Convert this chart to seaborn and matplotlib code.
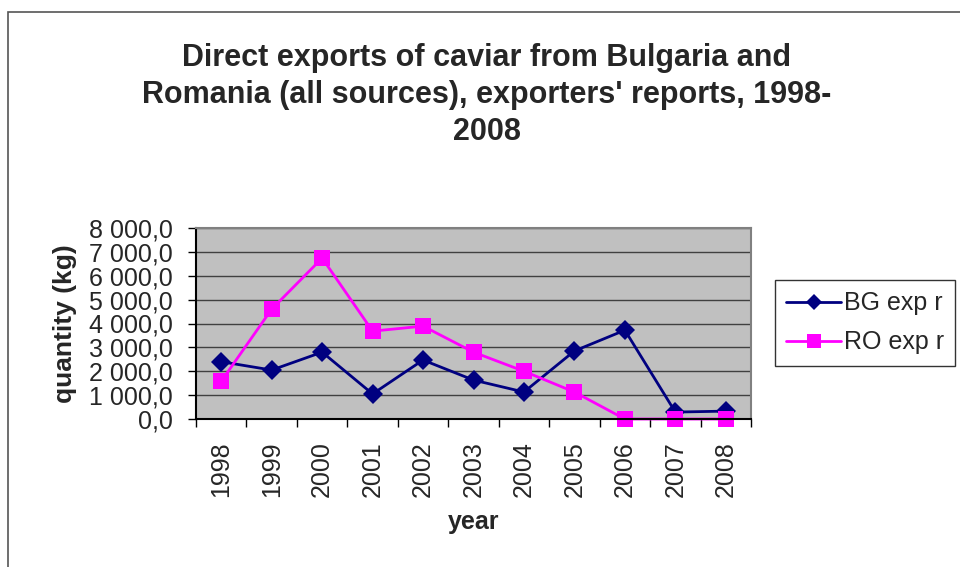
import numpy as np
import pandas as pd
import matplotlib
matplotlib.use("Agg")
import matplotlib.pyplot as plt
from matplotlib.ticker import FuncFormatter, MultipleLocator
import seaborn as sns

years = [1998, 1999, 2000, 2001, 2002, 2003, 2004, 2005, 2006, 2007, 2008]
bg_exp = [2400, 2050, 2800, 1050, 2470, 1630, 1130, 2850, 3720, 290, 330]
ro_exp = [1580, 4600, 6740, 3680, 3890, 2800, 2000, 1130, 0, 0, 0]

df = pd.DataFrame({
    "year": years * 2,
    "qty": bg_exp + ro_exp,
    "series": ["BG exp r"] * len(years) + ["RO exp r"] * len(years),
})

sns.set_style("white")
plt.rcParams["font.family"] = ["Liberation Sans", "DejaVu Sans"]

fig = plt.figure(figsize=(9.6, 5.67), dpi=100)
ax = fig.add_axes([196 / 960, 1 - 419 / 567, 555 / 960, 191 / 567])

sns.lineplot(data=df, x="year", y="qty", hue="series", style="series",
             palette={"BG exp r": "#000080", "RO exp r": "#FF00FF"},
             markers={"BG exp r": "D", "RO exp r": "s"}, dashes=False,
             markersize=10, linewidth=2, markeredgewidth=0, ax=ax)
# bigger squares for RO like in the original, and let markers at 0 show
for line in ax.get_lines():
    line.set_clip_on(False)
    if line.get_marker() == "s":
        line.set_markersize(12)

ax.set_facecolor("#C0C0C0")
ax.set_xlim(1997.5, 2008.5)
ax.set_ylim(0, 8000)
ax.yaxis.set_major_locator(MultipleLocator(1000))
ax.yaxis.set_major_formatter(FuncFormatter(
    lambda v, p: f"{v:,.1f}".replace(",", " ").replace(".", ",")))
ax.grid(axis="y", color="#404040", linewidth=1)
ax.set_axisbelow(True)

ax.set_xticks(years)
ax.set_xticklabels([str(y) for y in years], rotation=90, fontsize=18)
ax.set_xticks(np.arange(1997.5, 2009, 1), minor=True)
ax.tick_params(axis="x", which="major", length=0, pad=16)
ax.tick_params(axis="x", which="minor", length=6, width=1, color="black",
               direction="out", bottom=True)
ax.tick_params(axis="y", length=6, width=1, color="black", direction="out",
               left=True, labelsize=18, pad=11)

for s in ["left", "bottom"]:
    ax.spines[s].set_color("black")
    ax.spines[s].set_linewidth(1.5)
for s in ["top", "right"]:
    ax.spines[s].set_color("#808080")
    ax.spines[s].set_linewidth(1.5)

ax.set_xlabel("year", fontsize=18, fontweight="bold", labelpad=9)
ax.set_ylabel("quantity (kg)", fontsize=19, fontweight="bold", labelpad=8)

leg = ax.legend(loc="upper left", bbox_to_anchor=(775 / 960, 1 - 280 / 567),
                bbox_transform=fig.transFigure, fontsize=18, frameon=True,
                fancybox=False, edgecolor="black", handlelength=2.2,
                handletextpad=0.1, borderpad=0.45, labelspacing=0.6,
                borderaxespad=0)
leg.get_frame().set_linewidth(1)
for h in leg.legend_handles:
    if h.get_marker() == "s":
        h.set_markersize(10)
    else:
        h.set_markersize(8)

fig.text(487 / 960, 1 - 43 / 567,
         "Direct exports of caviar from Bulgaria and\n"
         "Romania (all sources), exporters' reports, 1998-\n2008",
         ha="center", va="top", fontsize=22, fontweight="bold",
         linespacing=1.3)

# outer chart frame
fig.patches.append(plt.Rectangle((8 / 960, -0.01), 1.0, 1 - 12 / 567 + 0.01,
                                 transform=fig.transFigure, fill=False,
                                 edgecolor="#555555", linewidth=1.2))

fig.savefig("out.png", dpi=100)
